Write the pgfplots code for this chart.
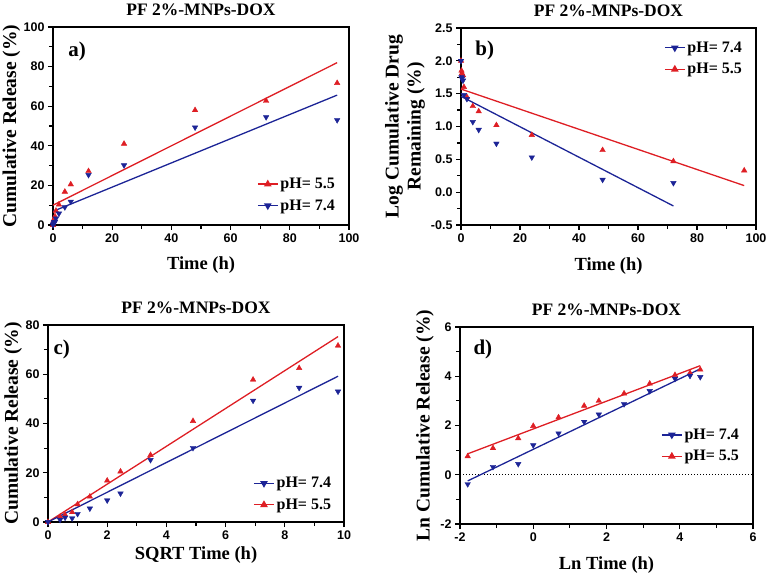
\documentclass[border=0pt]{standalone}
\usepackage{pgfplots}
\pgfplotsset{compat=1.18}
\usepackage{fontspec}
\setmainfont{Liberation Serif}
\newfontfamily\arialf{Liberation Sans}
\definecolor{myred}{RGB}{222,30,36}
\definecolor{myblue}{RGB}{28,36,150}

\pgfplotsset{
 panel/.style={
  scale only axis, width=296pt, height=198pt,
  axis line style={line width=1.4pt},
  tick style={line width=1.2pt, black},
  major tick length=5pt, minor tick length=4pt,
  tick align=outside, xtick pos=bottom, ytick pos=left,
  /pgf/number format/assume math mode=true,
  tick label style={font=\arialf\bfseries\fontsize{12.5}{14}\selectfont},
  every axis title shift=0pt,
  title style={font=\bfseries\fontsize{17.5}{20}\selectfont, at={(axis description cs:0.5,1.087)}, anchor=center},
  every axis x label/.style={at={(axis description cs:0.5,-0.2)}, anchor=center, font=\bfseries\fontsize{18.5}{20}\selectfont},
  every axis y label/.style={at={(axis description cs:-0.14,0.5)}, anchor=center, rotate=90, font=\bfseries\fontsize{19.5}{22}\selectfont, align=center},
  clip=false,
  legend cell align=left,
  legend style={draw=none, fill=none, font=\bfseries\fontsize{16}{18}\selectfont, inner sep=0pt, row sep=5.5pt, anchor=west},
  legend image code/.code={\draw[mark repeat=2,mark phase=2,##1] plot coordinates {(0pt,0pt) (10pt,0pt) (20pt,0pt)};},
  title={PF 2\%-MNPs-DOX},
 },
 dr/.style={only marks, mark=triangle*, mark size=3.2pt, color=myred, forget plot},
 db/.style={only marks, mark=triangle*, mark size=3.2pt, color=myblue, mark options={rotate=180}, forget plot},
 fr/.style={myred, line width=1.3pt, no marks, forget plot},
 fb/.style={myblue, line width=1.3pt, no marks, forget plot},
 lr/.style={myred, line width=1.3pt, mark=triangle*, mark size=3.2pt},
 lb/.style={myblue, line width=1.3pt, mark=triangle*, mark size=3.2pt, mark options={rotate=180}},
}

\begin{document}
\begin{tikzpicture}
\path[use as bounding box] (0,0) rectangle (767pt,576pt);

% ---------------- a)
\begin{axis}[panel, at={(53pt,351pt)}, anchor=south west,
  xmin=0, xmax=100, ymin=0, ymax=100,
  xtick={0,20,...,100}, ytick={0,20,...,100},
  minor x tick num=1, minor y tick num=1,
  xlabel={Time (h)}, ylabel={Cumulative Release (\%)},
  legend style={at={(axis description cs:0.689,0.152)}}]
\addlegendimage{lr}\addlegendentry{pH= 5.5}
\addlegendimage{lb}\addlegendentry{pH= 7.4}
\addplot[fr] coordinates {(0,10) (96,82)};
\addplot[fb] coordinates {(0,6.9) (96,65.6)};
\addplot[dr] coordinates {(0,0) (0.167,2.1) (0.333,2.9) (0.667,4.4) (1,7.2) (2,10.3) (4,16.8) (6,20.5) (12,27.2) (24,41) (48,58) (72,62.7) (96,71.7)};
\addplot[db] coordinates {(0,0) (0.167,0.7) (0.333,1.4) (0.667,1.6) (1,3.3) (2,5.8) (4,9) (6,11.8) (12,25.3) (24,30.2) (48,49.3) (72,54.5) (96,53)};
\node[font=\bfseries\fontsize{21}{24}\selectfont, anchor=west] at (axis description cs:0.04,0.874) {a)};
\end{axis}

% ---------------- b)
\begin{axis}[panel, at={(461pt,351pt)}, anchor=south west, width=295pt, height=197pt,
  xmin=0, xmax=100, ymin=-0.5, ymax=2.5,
  xtick={0,20,...,100}, ytick={-0.5,0,0.5,1,1.5,2,2.5},
  minor x tick num=1, minor y tick num=1,
  yticklabel style={/pgf/number format/.cd, fixed, fixed zerofill, precision=1},
  xlabel={Time (h)}, ylabel={Log Cumulative Drug\\Remaining (\%)},
  every axis y label/.append style={at={(axis description cs:-0.19,0.5)}},
  every axis x label/.append style={at={(axis description cs:0.5,-0.21)}},
  legend style={at={(axis description cs:0.688,0.845)}}]
\addlegendimage{lb}\addlegendentry{pH= 7.4}
\addlegendimage{lr}\addlegendentry{pH= 5.5}
\addplot[fr] coordinates {(0,1.57) (96,0.1)};
\addplot[fb] coordinates {(0,1.46) (72,-0.21)};
\addplot[dr] coordinates {(0,2.0) (0.167,1.85) (0.333,1.81) (0.667,1.78) (1,1.6) (2,1.45) (4,1.31) (6,1.23) (12,1.02) (24,0.87) (48,0.64) (72,0.47) (96,0.33)};
\addplot[db] coordinates {(0,2.0) (0.167,1.75) (0.333,1.73) (0.667,1.7) (1,1.48) (2,1.42) (4,1.07) (6,0.95) (12,0.74) (24,0.53) (48,0.19) (72,0.14)};
\node[font=\bfseries\fontsize{21}{24}\selectfont, anchor=west] at (axis description cs:0.037,0.888) {b)};
\end{axis}

% ---------------- c)
\begin{axis}[panel, at={(48pt,54pt)}, anchor=south west, height=197pt,
  xmin=0, xmax=10, ymin=0, ymax=80,
  xtick={0,2,...,10}, ytick={0,20,...,80},
  minor x tick num=1, minor y tick num=1,
  xlabel={SQRT Time (h)}, ylabel={Cumulative Release (\%)},
  every axis y label/.append style={at={(axis description cs:-0.118,0.5)}},
  every axis x label/.append style={at={(axis description cs:0.5,-0.17)}},
  legend style={at={(axis description cs:0.693,0.142)}}]
\addlegendimage{lb}\addlegendentry{pH= 7.4}
\addlegendimage{lr}\addlegendentry{pH= 5.5}
\addplot[fr] coordinates {(0,0) (9.8,75.3)};
\addplot[fb] coordinates {(0,0) (9.8,59.2)};
\addplot[dr] coordinates {(0,0) (0.408,2.1) (0.577,2.9) (0.816,4.0) (1,7.2) (1.414,10.3) (2,16.8) (2.449,20.5) (3.464,27.2) (4.899,41) (6.928,57.8) (8.485,62.5) (9.798,71.6)};
\addplot[db] coordinates {(0,0) (0.408,0.9) (0.577,1.8) (0.816,1.5) (1,3.3) (1.414,5.5) (2,8.8) (2.449,11.6) (3.464,25.2) (4.899,30.1) (6.928,49.3) (8.485,54.5) (9.798,53)};
\node[font=\bfseries\fontsize{21}{24}\selectfont, anchor=west] at (axis description cs:0.007,0.875) {c)};
\end{axis}

% ---------------- d)
\begin{axis}[panel, at={(460pt,52pt)}, anchor=south west, width=293pt, height=197pt,
  xmin=-2, xmax=6, ymin=-2, ymax=6,
  xtick={-2,0,...,6}, ytick={-2,0,...,6},
  minor x tick num=1, minor y tick num=1,
  xlabel={Ln Time (h)}, ylabel={Ln Cumulative Release (\%)},
  every axis y label/.append style={at={(axis description cs:-0.12,0.5)}},
  every axis x label/.append style={at={(axis description cs:0.5,-0.207)}},
  legend style={at={(axis description cs:0.686,0.398)}}]
\addlegendimage{lb}\addlegendentry{pH= 7.4}
\addlegendimage{lr}\addlegendentry{pH= 5.5}
\addplot[black, dotted, line width=1pt, forget plot] coordinates {(-2,0) (6,0)};
\addplot[fr] coordinates {(-1.79,0.85) (4.56,4.43)};
\addplot[fb] coordinates {(-1.79,-0.25) (4.56,4.3)};
\addplot[dr] coordinates {(-1.79,0.75) (-1.10,1.08) (-0.41,1.48) (0,1.98) (0.69,2.33) (1.39,2.8) (1.79,3.0) (2.48,3.3) (3.18,3.7) (3.87,4.05) (4.28,4.13) (4.56,4.27)};
\addplot[db] coordinates {(-1.79,-0.38) (-1.10,0.32) (-0.41,0.44) (0,1.2) (0.69,1.68) (1.39,2.15) (1.79,2.45) (2.48,2.87) (3.18,3.4) (3.87,3.9) (4.28,4.02) (4.56,3.97)};
\node[font=\bfseries\fontsize{21}{24}\selectfont, anchor=west] at (axis description cs:0.034,0.885) {d)};
\end{axis}
\end{tikzpicture}
\end{document}
